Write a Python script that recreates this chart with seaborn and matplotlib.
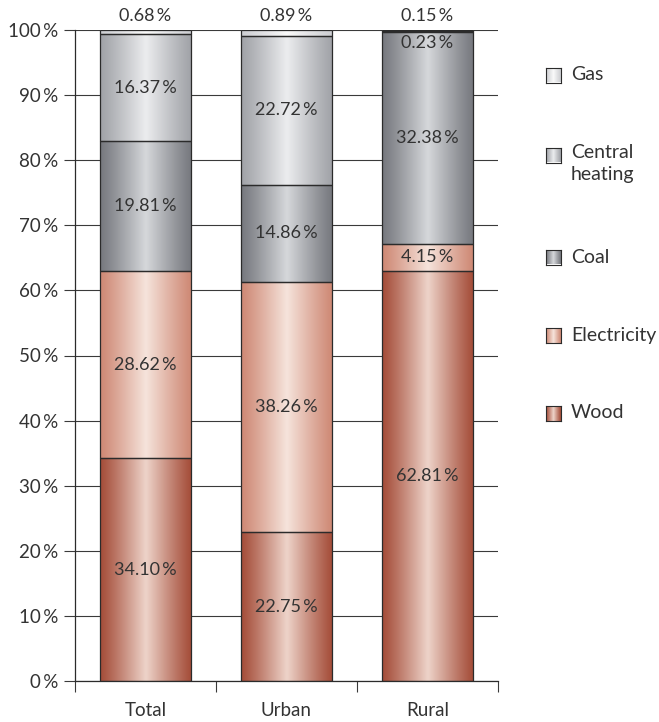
import numpy as np
import pandas as pd
import matplotlib
matplotlib.use("Agg")
import matplotlib.pyplot as plt
import seaborn as sns

sns.set_theme(style="white")
plt.rcParams["font.family"] = ["Lato", "DejaVu Sans"]

# Heating source shares (%) by area
areas = ["Total", "Urban", "Rural"]
sources = ["Wood", "Electricity", "Coal", "Central heating", "Gas"]
wood = [34.10, 22.75, 62.81]
electricity = [28.62, 38.26, 4.15]
coal = [19.81, 14.86, 32.38]
central_heating = [16.37, 22.72, 0.23]
gas = [0.68, 0.89, 0.15]
yticks = [0, 10, 20, 30, 40, 50, 60, 70, 80, 90, 100]

values = np.array([wood, electricity, coal, central_heating, gas])
# bars are drawn as a 100 % stack
shares = values / values.sum(axis=0) * 100
bottoms = np.vstack([np.zeros(3), np.cumsum(shares, axis=0)[:-1]])

# (edge colour, centre colour) of the cylinder-like shading
shades = {
    "Wood": ((164, 76, 56), (238, 212, 202)),
    "Electricity": ((206, 136, 116), (246, 228, 220)),
    "Coal": ((118, 120, 126), (214, 216, 219)),
    "Central heating": ((160, 162, 167), (236, 237, 239)),
    "Gas": ((205, 206, 210), (250, 250, 250)),
}

def gradient(name, n=256):
    edge, centre = (np.array(c) / 255 for c in shades[name])
    x = np.linspace(0, 1, n)
    t = (1 - np.abs(2 * x - 1)) ** 1.1
    img = edge[None, :] + (centre - edge)[None, :] * t[:, None]
    return img[None, :, :]

fig = plt.figure(figsize=(6.59, 7.22), dpi=100)
ax = fig.add_axes([75 / 659, 1 - 681 / 722, 423 / 659, 651 / 722])

text_color = "#333333"
bar_width = 0.65

for i, name in enumerate(sources):
    df = pd.DataFrame({"area": areas, "share": shares[i]})
    before = len(ax.patches)
    sns.barplot(data=df, x="area", y="share", order=areas, bottom=bottoms[i],
                width=bar_width, color="white", edgecolor="#2b2b2b",
                linewidth=0.9, ax=ax, zorder=3)
    img = gradient(name)
    for p in ax.patches[before:]:
        p.set_facecolor("none")
        p.set_edgecolor("#2b2b2b")
        x0, y0 = p.get_x(), p.get_y()
        w, h = p.get_width(), p.get_height()
        im = ax.imshow(img, extent=[x0, x0 + w, y0, y0 + h], aspect="auto",
                       zorder=2, interpolation="bicubic")
        im.set_clip_path(p)

# value labels
for i, name in enumerate(sources):
    for j, area in enumerate(areas):
        v = values[i, j]
        y = bottoms[i, j] + shares[i, j] / 2
        if name == "Gas":
            y = 102.1
        elif name == "Central heating" and area == "Rural":
            y = 98.0
        ax.text(j, y, f"{v:.2f}\u2009%", ha="center", va="center",
                fontsize=13, color=text_color, zorder=5, clip_on=False)

ax.set_xlim(-0.5, 2.5)
ax.set_ylim(0, 100)
ax.set_yticks(yticks)
ax.set_yticklabels([f"{t}\u2009%" for t in yticks])
ax.yaxis.grid(True, color="#3a3a3a", linewidth=0.8, zorder=0)
ax.set_axisbelow(True)
ax.set_xlabel("")
ax.set_ylabel("")

ax.set_xticks([0, 1, 2])
ax.set_xticklabels(areas)
ax.set_xticks([-0.5, 0.5, 1.5, 2.5], minor=True)
ax.tick_params(axis="x", which="major", length=0, pad=15, labelsize=13.5,
               labelcolor=text_color)
ax.tick_params(axis="x", which="minor", length=8, width=0.8, color="#3a3a3a",
               direction="out", bottom=True)
ax.tick_params(axis="y", length=8, width=0.8, color="#3a3a3a", direction="out",
               left=True, pad=4, labelsize=13.5, labelcolor=text_color)

for side in ["top", "right"]:
    ax.spines[side].set_visible(False)
for side in ["left", "bottom"]:
    ax.spines[side].set_color("#2b2b2b")
    ax.spines[side].set_linewidth(0.9)

# legend with shaded swatches
legend_items = [
    ("Gas", "Gas", 75),
    ("Central heating", "Central\nheating", 155),
    ("Coal", "Coal", 257),
    ("Electricity", "Electricity", 335),
    ("Wood", "Wood", 413),
]
W, H = 659, 722
for name, label, ypix in legend_items:
    sw = fig.add_axes([546 / W, 1 - (ypix + 7.5) / H, 15 / W, 15 / H])
    sw.imshow(gradient(name), aspect="auto", extent=[0, 1, 0, 1])
    sw.set_xticks([])
    sw.set_yticks([])
    for s in sw.spines.values():
        s.set_color("#2b2b2b")
        s.set_linewidth(0.8)
    two_lines = "\n" in label
    fig.text(571 / W, 1 - (ypix - 11 if two_lines else ypix) / H, label,
             ha="left", va="top" if two_lines else "center",
             fontsize=14, color=text_color, linespacing=1.35)

fig.savefig("out.png", dpi=100)
